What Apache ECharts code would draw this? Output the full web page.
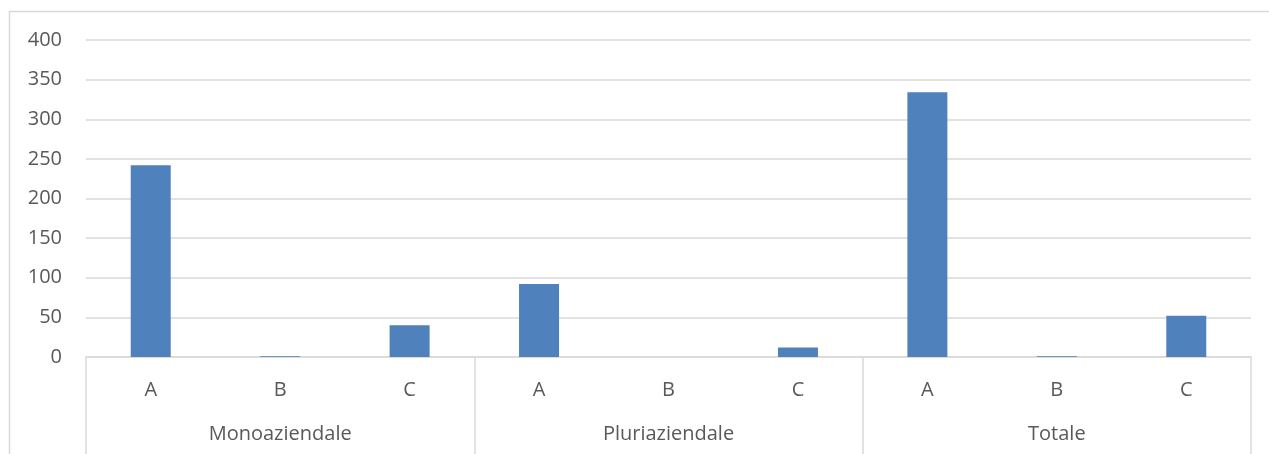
<!DOCTYPE html>
<html>
<head>
<meta charset="utf-8">
<script src="https://cdn.jsdelivr.net/npm/echarts@6/dist/echarts.min.js"></script>
<style>
html,body{margin:0;padding:0;background:#fff;}
#chart{width:1269px;height:454px;}
</style>
</head>
<body>
<div id="chart"></div>
<script>
const groups = ['Monoaziendale', 'Pluriaziendale', 'Totale'];
const subCategories = ['A', 'B', 'C'];
const monoValues = [242, 1, 40];
const pluriValues = [92, 0, 12];
const totaleValues = [334, 1, 52];
const yTicks = { min: 0, max: 400, interval: 50 };

const innerCats = [];
groups.forEach(() => subCategories.forEach(s => innerCats.push(s)));
const values = [].concat(monoValues, pluriValues, totaleValues);

const chart = echarts.init(document.getElementById('chart'));
const txt = '#595959';
const lineCol = '#d9d9d9';
const font = 'Open Sans';
chart.setOption({
  animation: false,
  graphic: [{
    type: 'rect',
    shape: { x: 9.5, y: 11.5, width: 1300, height: 500 },
    style: { fill: 'none', stroke: lineCol, lineWidth: 1.5 },
    silent: true, z: -1
  }],
  grid: { left: 86, right: 18, top: 40, bottom: 97 },
  xAxis: [{
    type: 'category',
    data: innerCats,
    position: 'bottom',
    axisLine: { show: true, lineStyle: { color: lineCol, width: 1.5 } },
    axisTick: { show: false },
    axisLabel: { color: txt, fontFamily: font, fontSize: 20, margin: 23 }
  }, {
    type: 'category',
    data: groups,
    position: 'bottom',
    axisLine: { show: false },
    axisTick: { show: true, length: 100, interval: 0, lineStyle: { color: lineCol, width: 1.5 } },
    axisLabel: { color: txt, fontFamily: font, fontSize: 20, margin: 67 }
  }],
  yAxis: {
    type: 'value',
    min: yTicks.min, max: yTicks.max, interval: yTicks.interval,
    axisLine: { show: false },
    axisTick: { show: false },
    splitLine: { lineStyle: { color: lineCol, width: 1.5 } },
    axisLabel: { color: txt, fontFamily: font, fontSize: 20, margin: 24 }
  },
  series: [{
    type: 'bar',
    xAxisIndex: 0,
    data: values,
    barWidth: 40,
    itemStyle: { color: '#4f81bd' }
  }]
});
</script>
</body>
</html>
